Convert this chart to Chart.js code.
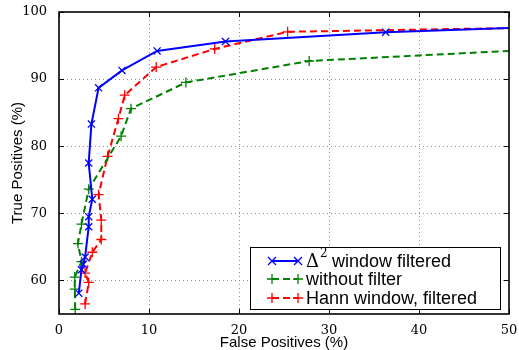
<!DOCTYPE html>
<html>
<head>
<meta charset="utf-8">
<script src="https://cdn.jsdelivr.net/npm/chart.js@4"></script>
<style>
  html, body { margin: 0; padding: 0; background: #fff; }
  #wrap { width: 519px; height: 350px; }
</style>
</head>
<body>
<div id="wrap"><canvas id="roc" width="519" height="350"></canvas></div>
<script>
// ---- data ----
const deltaFp = [2.2, 2.5, 2.7, 2.9, 3.3, 3.3, 3.7, 3.3, 3.6, 4.4, 7.0, 10.9, 18.5, 36.3, 50];
const deltaTp = [58.1, 61.6, 62.4, 63.5, 68.0, 69.5, 72.1, 77.5, 83.3, 88.7, 91.3, 94.2, 95.6, 97.0, 97.6];

const rawFp = [1.8, 1.75, 1.75, 2.5, 2.1, 2.5, 3.3, 6.9, 8.0, 14.1, 27.8, 50];
const rawTp = [55.7, 58.7, 60.5, 62.8, 65.5, 68.4, 73.6, 81.5, 85.6, 89.5, 92.7, 94.2];

const hannFp = [2.9, 3.3, 2.9, 3.7, 4.7, 4.7, 4.4, 5.4, 6.6, 7.3, 10.8, 17.3, 25.4, 50];
const hannTp = [56.5, 59.7, 61.1, 64.2, 66.1, 69.0, 72.8, 78.5, 84.1, 87.6, 91.8, 94.5, 97.05, 97.6];

const xTicks = [0, 10, 20, 30, 40, 50];
const yTicks = [60, 70, 80, 90, 100];

const pts = (xs, ys) => xs.map((x, i) => ({ x, y: ys[i] }));
// last point sits on the frame edge, no marker there
const hideLast = (ctx) => ctx.dataIndex === ctx.dataset.data.length - 1 ? 0 : 5;

// ---- dotted grid (drawn under the lines) ----
const dottedGrid = {
  id: 'dottedGrid',
  beforeDatasetsDraw(chart) {
    const { ctx, chartArea: a, scales } = chart;
    ctx.save();
    ctx.strokeStyle = '#909090';
    ctx.lineWidth = 1;
    ctx.setLineDash([1, 3]);
    xTicks.slice(1, -1).forEach(v => {
      const px = Math.round(scales.x.getPixelForValue(v)) + 0.5;
      ctx.beginPath(); ctx.moveTo(px, a.top); ctx.lineTo(px, a.bottom); ctx.stroke();
    });
    yTicks.slice(0, -1).forEach(v => {
      const py = Math.round(scales.y.getPixelForValue(v)) + 0.5;
      ctx.beginPath(); ctx.moveTo(a.left, py); ctx.lineTo(a.right, py); ctx.stroke();
    });
    ctx.restore();
  }
};

// ---- inward ticks + frame ----
const frame = {
  id: 'frame',
  afterDatasetsDraw(chart) {
    const { ctx, chartArea: a, scales } = chart;
    ctx.save();
    ctx.strokeStyle = '#000';
    ctx.lineWidth = 1;
    const L = 5;
    xTicks.forEach(v => {
      const px = Math.round(scales.x.getPixelForValue(v)) + 0.5;
      ctx.beginPath();
      ctx.moveTo(px, a.bottom); ctx.lineTo(px, a.bottom - L);
      ctx.moveTo(px, a.top); ctx.lineTo(px, a.top + L);
      ctx.stroke();
    });
    yTicks.forEach(v => {
      const py = Math.round(scales.y.getPixelForValue(v)) + 0.5;
      ctx.beginPath();
      ctx.moveTo(a.left, py); ctx.lineTo(a.left + L, py);
      ctx.moveTo(a.right, py); ctx.lineTo(a.right - L, py);
      ctx.stroke();
    });
    ctx.lineWidth = 1.6;
    ctx.strokeRect(a.left, a.top, a.right - a.left, a.bottom - a.top);
    ctx.restore();
  }
};

// ---- legend box inside the plot ----
const boxLegend = {
  id: 'boxLegend',
  afterDraw(chart) {
    const { ctx } = chart;
    const x0 = 250, y0 = 247, w = 250, h = 62;
    ctx.save();
    ctx.fillStyle = '#fff';
    ctx.fillRect(x0, y0, w, h);
    ctx.strokeStyle = '#000';
    ctx.lineWidth = 1;
    ctx.strokeRect(x0 + 0.5, y0 + 0.5, w, h);
    const rows = [261, 279, 298];
    chart.data.datasets.forEach((ds, i) => {
      const y = rows[i];
      ctx.strokeStyle = ds.borderColor;
      ctx.lineWidth = 2;
      ctx.setLineDash(ds.borderDash || []);
      ctx.beginPath();
      ctx.moveTo(272, y); ctx.lineTo(298, y);
      ctx.stroke();
      ctx.setLineDash([]);
      ctx.lineWidth = 1.3;
      [272, 298].forEach(mx => {
        ctx.beginPath();
        if (ds.pointStyle === 'crossRot') {
          ctx.moveTo(mx - 4, y - 4); ctx.lineTo(mx + 4, y + 4);
          ctx.moveTo(mx - 4, y + 4); ctx.lineTo(mx + 4, y - 4);
        } else {
          ctx.moveTo(mx - 5, y); ctx.lineTo(mx + 5, y);
          ctx.moveTo(mx, y - 5); ctx.lineTo(mx, y + 5);
        }
        ctx.stroke();
      });
      ctx.fillStyle = '#000';
      ctx.textBaseline = 'middle';
      ctx.textAlign = 'left';
      const tx = 306;
      if (i === 0) {
        ctx.font = '18px "DejaVu Serif", serif';
        ctx.fillText('Δ', tx, y + 1);
        const dw = ctx.measureText('Δ').width;
        ctx.font = '12px "DejaVu Serif", serif';
        ctx.fillText('2', tx + dw + 1, y - 7);
        ctx.font = '18px "Liberation Sans", Arial, sans-serif';
        ctx.fillText(' window filtered', tx + dw + 8, y + 1);
      } else {
        ctx.font = '18px "Liberation Sans", Arial, sans-serif';
        ctx.fillText(ds.label, tx, y + 1);
      }
    });
    ctx.restore();
  }
};

new Chart(document.getElementById('roc').getContext('2d'), {
  type: 'scatter',
  data: {
    datasets: [
      {
        label: 'Δ² window filtered',
        data: pts(deltaFp, deltaTp),
        showLine: true,
        borderColor: '#0000ff',
        backgroundColor: '#0000ff',
        borderWidth: 2,
        pointStyle: 'crossRot',
        pointRadius: hideLast,
        pointBorderWidth: 1.3,
        pointBorderColor: '#0000ff'
      },
      {
        label: 'without filter',
        data: pts(rawFp, rawTp),
        showLine: true,
        borderColor: '#008000',
        backgroundColor: '#008000',
        borderWidth: 2,
        borderDash: [7, 4],
        pointStyle: 'cross',
        pointRadius: hideLast,
        pointBorderWidth: 1.3,
        pointBorderColor: '#008000'
      },
      {
        label: 'Hann window, filtered',
        data: pts(hannFp, hannTp),
        showLine: true,
        borderColor: '#ff0000',
        backgroundColor: '#ff0000',
        borderWidth: 2,
        borderDash: [7, 4],
        pointStyle: 'cross',
        pointRadius: hideLast,
        pointBorderWidth: 1.3,
        pointBorderColor: '#ff0000'
      }
    ]
  },
  options: {
    responsive: false,
    animation: false,
    layout: { padding: { top: 12, right: 10, left: 0, bottom: 0 } },
    plugins: {
      legend: { display: false },
      tooltip: { enabled: false }
    },
    scales: {
      x: {
        type: 'linear',
        min: 0, max: 50,
        afterBuildTicks: (s) => { s.ticks = xTicks.map(v => ({ value: v })); },
        afterFit: (s) => { s.height = 36; },
        grid: { display: false },
        border: { display: false },
        ticks: {
          padding: 1,
          color: '#000',
          font: { family: '"DejaVu Serif", serif', size: 13 }
        },
        title: {
          display: true,
          text: 'False Positives (%)',
          color: '#000',
          padding: { top: 0, bottom: 0 },
          font: { family: '"Liberation Sans", Arial, sans-serif', size: 15, lineHeight: 1 }
        }
      },
      y: {
        type: 'linear',
        min: 55, max: 100,
        afterBuildTicks: (s) => { s.ticks = yTicks.map(v => ({ value: v })); },
        afterFit: (s) => { s.width = 59; },
        grid: { display: false },
        border: { display: false },
        ticks: {
          padding: 4,
          color: '#000',
          font: { family: '"DejaVu Serif", serif', size: 13 }
        },
        title: {
          display: true,
          text: 'True Positives (%)',
          color: '#000',
          padding: { top: 9, bottom: 0 },
          font: { family: '"Liberation Sans", Arial, sans-serif', size: 15 }
        }
      }
    }
  },
  plugins: [dottedGrid, frame, boxLegend]
});
</script>
</body>
</html>
